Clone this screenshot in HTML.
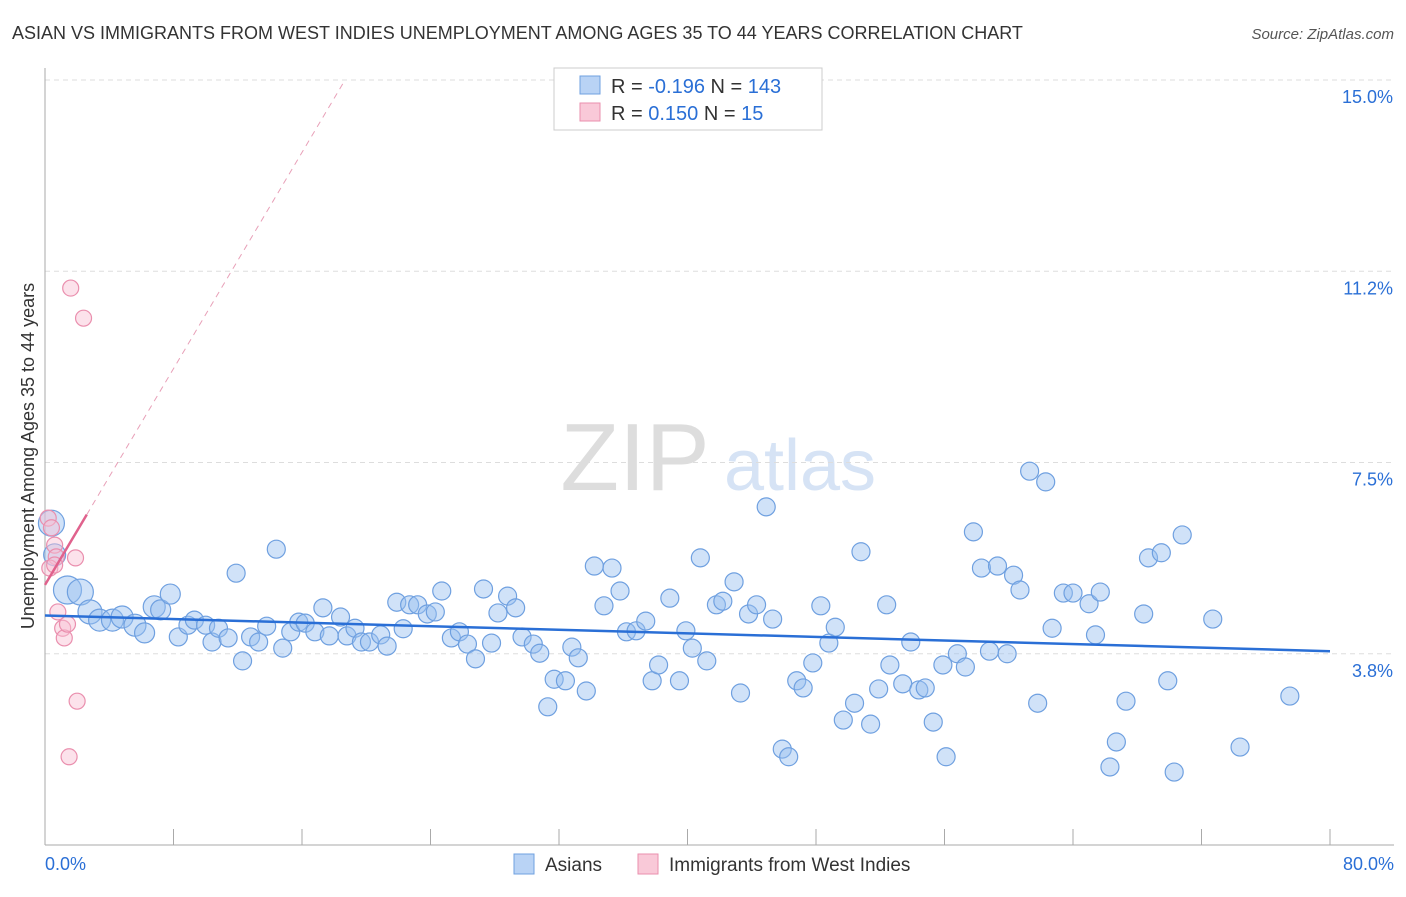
<!DOCTYPE html>
<html><head><meta charset="utf-8"><style>
body{margin:0;background:#fff;font-family:"Liberation Sans",sans-serif;}
svg text{font-family:"Liberation Sans",sans-serif;}
</style></head><body>
<svg id="chart" width="1406" height="892" viewBox="0 0 1406 892">
<text x="12" y="39" font-size="18" fill="#333">ASIAN VS IMMIGRANTS FROM WEST INDIES UNEMPLOYMENT AMONG AGES 35 TO 44 YEARS CORRELATION CHART</text>
<text x="1394" y="39" font-size="15" fill="#555" text-anchor="end" font-style="italic">Source: ZipAtlas.com</text>
<g><text x="635" y="490" font-size="96" fill="#ddd" font-family="Liberation Serif" text-anchor="middle">ZIP</text><text x="800" y="490" font-size="72" fill="#d6e3f5" text-anchor="middle">atlas</text></g>
<g id="grid"></g><g id="axes"></g><g id="marks"></g>
<g>
<rect x="554" y="68" width="268" height="62" fill="#fff" stroke="#ccc"/>
<rect x="580" y="76" width="20" height="18" fill="#b9d3f5" stroke="#6fa0e0"/>
<rect x="580" y="103" width="20" height="18" fill="#f9c9d8" stroke="#ea8fae"/>
<text x="611" y="93" font-size="20" fill="#333">R = <tspan fill="#2a6fd6">-0.196</tspan>   N = <tspan fill="#2a6fd6">143</tspan></text>
<text x="611" y="120" font-size="20" fill="#333">R =  <tspan fill="#2a6fd6">0.150</tspan>   N =  <tspan fill="#2a6fd6"> 15</tspan></text>
</g>
<g>
<rect x="514" y="854" width="20" height="20" fill="#b9d3f5" stroke="#6fa0e0"/>
<text x="545" y="871" font-size="19" fill="#333">Asians</text>
<rect x="638" y="854" width="20" height="20" fill="#f9c9d8" stroke="#ea8fae"/>
<text x="669" y="871" font-size="19" fill="#333">Immigrants from West Indies</text>
</g>
<text transform="translate(34,456) rotate(-90)" font-size="18" fill="#333" text-anchor="middle">Unemployment Among Ages 35 to 44 years</text>
</svg>
<script>
const blueX=[0.4,0.6,1.4,2.2,2.8,3.4,4.2,4.8,5.6,6.2,6.8,7.2,7.8,8.3,8.9,9.3,10.0,10.4,10.8,11.4,11.9,12.3,12.8,13.3,13.8,14.4,14.8,15.3,15.8,16.2,16.8,17.3,17.7,18.4,18.8,19.3,19.7,20.2,20.9,21.3,21.9,22.3,22.7,23.2,23.8,24.3,24.7,25.3,25.8,26.3,26.8,27.3,27.8,28.2,28.8,29.3,29.7,30.4,30.8,31.3,31.7,32.4,32.8,33.2,33.7,34.2,34.8,35.3,35.8,36.2,36.8,37.4,37.8,38.2,38.9,39.5,39.9,40.3,40.8,41.2,41.8,42.2,42.9,43.3,43.8,44.3,44.9,45.3,45.9,46.3,46.8,47.2,47.8,48.3,48.8,49.2,49.7,50.4,50.8,51.4,51.9,52.4,52.6,53.4,53.9,54.4,54.8,55.3,55.9,56.1,56.8,57.3,57.8,58.3,58.8,59.3,59.9,60.3,60.7,61.3,61.8,62.3,62.7,63.4,64.0,65.0,65.4,65.7,66.3,66.7,67.3,68.4,68.7,69.5,69.9,70.3,70.8,72.7,74.4,77.5];
const blueY=[6.31,5.69,5.00,4.96,4.57,4.41,4.41,4.47,4.31,4.16,4.67,4.61,4.92,4.08,4.31,4.41,4.31,3.98,4.25,4.06,5.33,3.61,4.08,3.98,4.29,5.80,3.86,4.18,4.37,4.35,4.18,4.65,4.10,4.47,4.10,4.25,3.98,3.98,4.12,3.90,4.76,4.24,4.71,4.71,4.53,4.57,4.98,4.06,4.18,3.94,3.65,5.02,3.96,4.55,4.88,4.65,4.08,3.94,3.76,2.71,3.25,3.22,3.88,3.67,3.02,5.47,4.69,5.43,4.98,4.18,4.20,4.39,3.22,3.53,4.84,3.22,4.20,3.86,5.63,3.61,4.71,4.78,5.16,2.98,4.53,4.71,6.63,4.43,1.88,1.73,3.22,3.08,3.57,4.69,3.96,4.27,2.45,2.78,5.75,2.37,3.06,4.71,3.53,3.16,3.98,3.04,3.08,2.41,3.53,1.73,3.75,3.49,6.14,5.43,3.80,5.47,3.75,5.29,5.00,7.33,2.78,7.12,4.25,4.94,4.94,4.73,4.12,4.96,1.53,2.02,2.82,4.53,5.63,5.73,3.22,1.43,6.08,4.43,1.92,2.92];
const blueSize=[13,11,14,13,12,11,11,11,11,10,11,10,10];
const pinkX=[0.2,0.4,0.6,0.7,0.3,0.6,0.8,1.1,1.2,1.4,1.6,1.9,2.0,1.5,2.4];
const pinkY=[6.41,6.22,5.88,5.65,5.43,5.49,4.57,4.25,4.06,4.33,10.92,5.63,2.82,1.73,10.33];
const blueTrend=[4.5,3.8];
const pinkTrend=[5.1,0.53];
const yTicks=[3.75,7.5,11.25,15];
const yTickLabels=["3.8%","7.5%","11.2%","15.0%"];
const xTicks=[0,8,16,24,32,40,48,56,64,72,80];
const NS="http://www.w3.org/2000/svg";
const X=v=>45+v/80*1285;
const Y=v=>845-v*51;
function mk(tag,attrs,parent){const e=document.createElementNS(NS,tag);for(const k in attrs)e.setAttribute(k,attrs[k]);document.getElementById(parent).appendChild(e);return e;}
yTicks.forEach((t,i)=>{
 const g=mk('line',{x1:45,x2:1394,y1:Y(t),y2:Y(t),stroke:'#ddd','stroke-dasharray':'5,4'},'grid');
 
 
 const l=mk('text',{x:1393,y:Y(t)+23,'font-size':18,fill:'#2a6fd6','text-anchor':'end'},'axes');
 l.textContent=yTickLabels[i];
 
 
});
const ax=mk('line',{x1:45,x2:45,y1:68,y2:845,stroke:'#aaa'},'axes');


const bx=mk('line',{x1:45,x2:1394,y1:845,y2:845,stroke:'#aaa'},'axes');


xTicks.forEach(t=>{
 const k=mk('line',{x1:X(t),x2:X(t),y1:829,y2:845,stroke:'#aaa'},'axes');
 
 
});
[[0,'start','0.0%'],[80,'end','80.0%']].forEach(([v,a,s])=>{
 const l=mk('text',{x:v==0?45:1394,y:870,'font-size':18,fill:'#2a6fd6','text-anchor':a},'axes');
 l.textContent=s;
 
 
});
blueX.forEach((x,i)=>{
 const c=mk('circle',{cx:X(x),cy:Y(blueY[i]),r:blueSize[i]||9,fill:'rgba(150,190,240,0.45)',stroke:'#6fa0e0','stroke-width':1.2},'marks');
 
 
});
pinkX.forEach((x,i)=>{
 const c=mk('circle',{cx:X(x),cy:Y(pinkY[i]),r:8,fill:'rgba(249,190,210,0.45)',stroke:'#ea8fae','stroke-width':1.2},'marks');
 
 
});
const bt=mk('line',{x1:X(0),y1:Y(blueTrend[0]),x2:X(80),y2:Y(blueTrend[1]),stroke:'#2a6fd6','stroke-width':2.5},'marks');


const xEnd=(15-pinkTrend[0])/pinkTrend[1];
const pd=mk('line',{x1:X(2.6),y1:Y(pinkTrend[0]+pinkTrend[1]*2.6),x2:X(xEnd),y2:Y(15),stroke:'#e8a0b8','stroke-width':1,'stroke-dasharray':'6,5'},'marks');


const pt=mk('line',{x1:X(0),y1:Y(pinkTrend[0]),x2:X(2.6),y2:Y(pinkTrend[0]+pinkTrend[1]*2.6),stroke:'#e0628d','stroke-width':2.5},'marks');


</script>
</body></html>
